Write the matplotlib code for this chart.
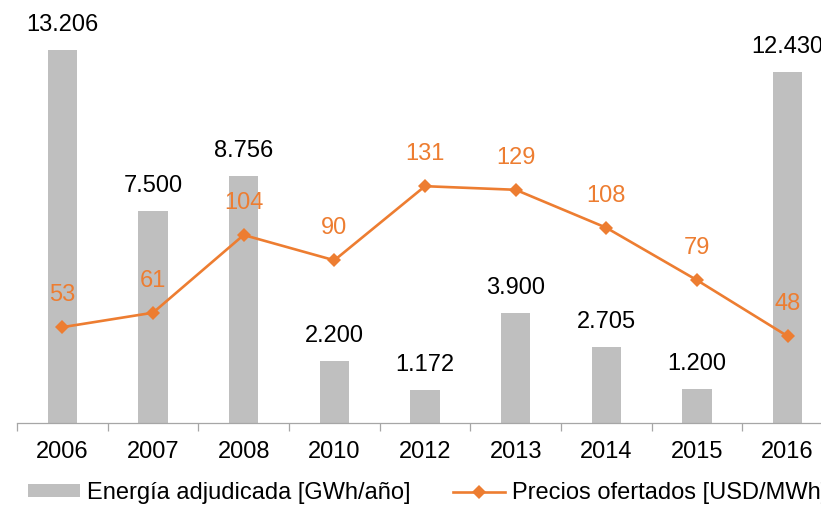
import matplotlib
matplotlib.use("Agg")
import matplotlib.pyplot as plt
from matplotlib.patches import Patch
from matplotlib.lines import Line2D

plt.rcParams['font.family'] = ['Liberation Sans', 'DejaVu Sans']

years = ["2006", "2007", "2008", "2010", "2012", "2013", "2014", "2015", "2016"]
energia = [13206, 7500, 8756, 2200, 1172, 3900, 2705, 1200, 12430]
precios = [53, 61, 104, 90, 131, 129, 108, 79, 48]

label_energia = "Energía adjudicada [GWh/año]"
label_precios = "Precios ofertados [USD/MWh]"

GRAY = "#BFBFBF"
ORANGE = "#ED7D31"
AXIS = "#A6A6A6"
FS = 17

W, H = 821, 505
fig = plt.figure(figsize=(W / 100, H / 100), dpi=100)
left_px, right_px, bottom_px, top_px = 17, 833, 423, 28
ax = fig.add_axes([left_px / W, (H - bottom_px) / H,
                   (right_px - left_px) / W, (bottom_px - top_px) / H])
ax2 = ax.twinx()

x = list(range(len(years)))
ax.bar(x, energia, width=0.32, color=GRAY, zorder=1)
ax.set_xlim(-0.5, len(years) - 0.5)
ax.set_ylim(0, 14000)
ax2.set_ylim(0, 218.5)

ax2.plot(x, precios, color=ORANGE, lw=1.9, marker="D", ms=7.5,
         markeredgewidth=0, zorder=3)

def fmt(v):
    return f"{v:,}".replace(",", ".")

for xi, v in zip(x, energia):
    ax.annotate(fmt(v), (xi, v), xytext=(0, 18), textcoords="offset points",
                ha="center", va="center", fontsize=FS, color="black")
for xi, v in zip(x, precios):
    ax2.annotate(str(v), (xi, v), xytext=(0, 23), textcoords="offset points",
                 ha="center", va="center", fontsize=FS, color=ORANGE)

for a in (ax, ax2):
    for s in ("top", "right", "left"):
        a.spines[s].set_visible(False)
    a.set_yticks([])
ax2.spines["bottom"].set_visible(False)
ax.spines["bottom"].set_color(AXIS)
ax.spines["bottom"].set_linewidth(0.9)

ax.set_xticks(x)
ax.set_xticklabels(years, fontsize=FS)
ax.tick_params(axis="x", which="major", length=0, pad=13)
ax.set_xticks([i - 0.5 for i in range(len(years) + 1)], minor=True)
ax.tick_params(axis="x", which="minor", length=6, width=0.9, color=AXIS,
               direction="out")

handles = [Patch(facecolor=GRAY, edgecolor="none"),
           Line2D([0], [0], color=ORANGE, lw=1.9, marker="D", ms=7.5,
                  markeredgewidth=0)]
fig.legend(handles, [label_energia, label_precios], loc="center left",
           bbox_to_anchor=(28 / W, 1 - 493 / H), ncol=2, frameon=False,
           fontsize=FS, borderpad=0, borderaxespad=0, handlelength=2.2,
           handleheight=0.47, handletextpad=0.3, columnspacing=1.8)

fig.savefig("out.png", dpi=100)
